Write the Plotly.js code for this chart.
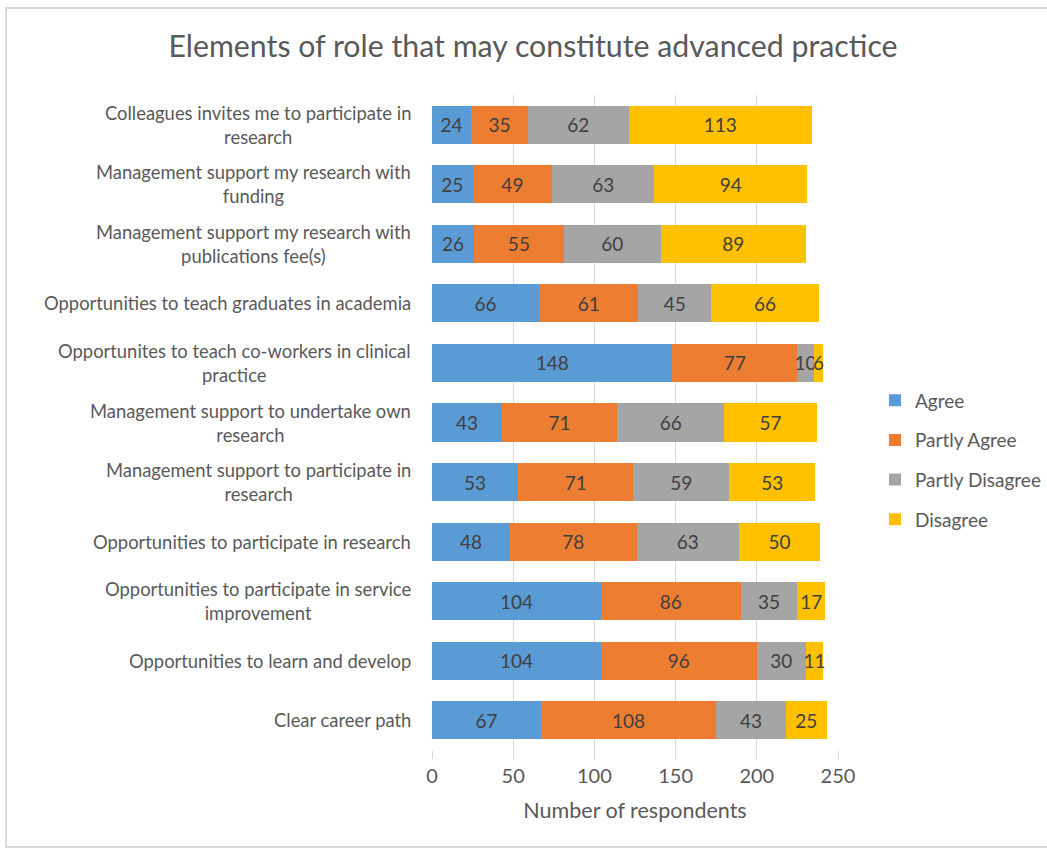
<!DOCTYPE html>
<html>
<head>
<meta charset="utf-8">
<script src="https://cdn.plot.ly/plotly-3.0.1.min.js"></script>
<style>html,body{margin:0;padding:0;background:#fff;}#chart{width:1047px;height:849px;}</style>
</head>
<body>
<div id="chart"></div>
<script>
const categories = [
  "Colleagues invites me to participate in<br>research",
  "Management support my research with<br>funding",
  "Management support my research with<br>publications fee(s)",
  "Opportunities to teach graduates in academia",
  "Opportunites to teach co-workers in clinical<br>practice",
  "Management support to undertake own<br>research",
  "Management support to participate in<br>research",
  "Opportunities to participate in research",
  "Opportunities to participate in service<br>improvement",
  "Opportunities to learn and develop",
  "Clear career path"
];
const agree          = [24, 25, 26, 66, 148, 43, 53, 48, 104, 104, 67];
const partlyAgree    = [35, 49, 55, 61, 77, 71, 71, 78, 86, 96, 108];
const partlyDisagree = [62, 63, 60, 45, 10, 66, 59, 63, 35, 30, 43];
const disagree       = [113, 94, 89, 66, 6, 57, 53, 50, 17, 11, 25];
const seriesNames = ["Agree", "Partly Agree", "Partly Disagree", "Disagree"];
const xTicks = [0, 50, 100, 150, 200, 250];

const colors = ["#5B9BD5", "#ED7D31", "#A5A5A5", "#FFC000"];
const seriesVals = [agree, partlyAgree, partlyDisagree, disagree];
const FONT = "Lato, 'Open Sans', sans-serif";
const TXT = "#595959";

const pw = 406, ph = 655, left = 432, bottom = 750;

const traces = seriesVals.map((vals, i) => ({
  type: "bar",
  orientation: "h",
  name: seriesNames[i],
  legendgroup: "g" + i,
  y: categories,
  x: vals,
  marker: {color: colors[i]},
  text: vals.map(String),
  textposition: "inside",
  insidetextanchor: "middle",
  constraintext: "none",
  cliponaxis: false,
  textfont: {family: FONT, size: 19, color: "#404040"},
  hoverinfo: "x+name"
}));

const annotations = categories.map(c => ({
  xref: "paper", yref: "y",
  x: -19 / pw, y: c,
  xanchor: "right", yanchor: "middle",
  align: "center",
  text: c,
  showarrow: false,
  font: {family: FONT, size: 18.4, color: TXT}
}));

const layout = {
  width: 1047, height: 849,
  margin: {l: 432, r: 209, t: 95, b: 99, autoexpand: false},
  paper_bgcolor: "#fff",
  plot_bgcolor: "#fff",
  barmode: "stack",
  bargap: 0.36,
  title: {
    text: "Elements of role that may constitute advanced practice",
    font: {family: FONT, size: 30.3, color: TXT},
    x: 533 / 1047, xref: "container", xanchor: "center",
    y: 0.945, yref: "container", yanchor: "middle"
  },
  xaxis: {
    range: [0, 250],
    tickvals: xTicks,
    ticktext: xTicks.map(String),
    showgrid: true,
    gridcolor: "#D9D9D9",
    gridwidth: 1,
    zeroline: false,
    showline: false,
    ticks: "outside",
    ticklen: 8,
    tickcolor: "#D9D9D9",
    tickfont: {family: FONT, size: 20, color: TXT},
    title: {text: "Number of respondents", font: {family: FONT, size: 21.5, color: TXT}, standoff: 16}
  },
  yaxis: {
    autorange: "reversed",
    showticklabels: false,
    showgrid: false,
    zeroline: false,
    showline: false,
    ticks: ""
  },
  legend: {
    x: (875 - left) / pw, xanchor: "left",
    y: 0.443, yanchor: "middle",
    font: {family: FONT, size: 19, color: TXT},
    tracegroupgap: 12,
    itemwidth: 30,
    traceorder: "grouped"
  },
  annotations: annotations,
  shapes: [{
    type: "rect", xref: "paper", yref: "paper",
    x0: (6 - left) / pw, x1: (1070 - left) / pw,
    y0: (bottom - 847) / ph, y1: (bottom - 8) / ph,
    line: {color: "#D9D9D9", width: 2},
    fillcolor: "rgba(0,0,0,0)",
    layer: "below"
  }],
  showlegend: true
};

Plotly.newPlot("chart", traces, layout, {displayModeBar: false, staticPlot: true});
</script>
</body>
</html>
